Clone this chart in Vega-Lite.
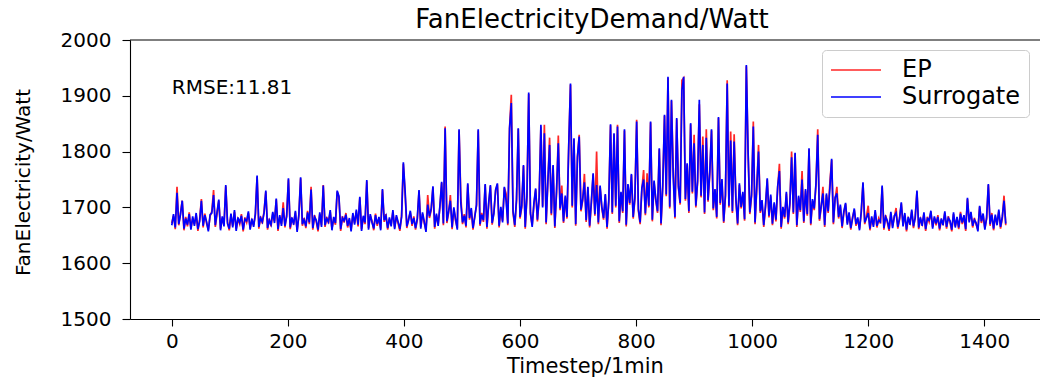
{
"$schema": "https://vega.github.io/schema/vega-lite/v6.json",
"width": 910, "height": 279,
"autosize": {"type": "none"},
"padding": {"left": 130, "top": 40, "right": 0, "bottom": 59},
"config": {"view": {"stroke": null}, "font": "DejaVu Sans"},
"title": {"text": "FanElectricityDemand/Watt", "fontSize": 26, "fontWeight": "normal", "color": "black", "font": "DejaVu Sans", "anchor": "middle", "offset": 8, "dx": 7, "dy": 11},
"layer": [
{
"data": {"values": [
{"t":0,"e":1672,"s":1668},{"t":3,"e":1685,"s":1688},{"t":6,"e":1661,"s":1664},{"t":9,"e":1737,"s":1726},{"t":12,"e":1668,"s":1670},{"t":15,"e":1690,"s":1687},{"t":18,"e":1712,"s":1712},{"t":21,"e":1659,"s":1662},{"t":24,"e":1683,"s":1680},{"t":27,"e":1666,"s":1669},
{"t":30,"e":1691,"s":1688},{"t":33,"e":1663,"s":1660},{"t":36,"e":1680,"s":1684},{"t":39,"e":1670,"s":1667},{"t":42,"e":1687,"s":1690},{"t":45,"e":1658,"s":1661},{"t":48,"e":1678,"s":1675},{"t":51,"e":1715,"s":1712},{"t":54,"e":1664,"s":1667},{"t":57,"e":1689,"s":1686},
{"t":60,"e":1671,"s":1674},{"t":63,"e":1660,"s":1657},{"t":66,"e":1684,"s":1687},{"t":69,"e":1693,"s":1690},{"t":72,"e":1731,"s":1722},{"t":75,"e":1665,"s":1668},{"t":78,"e":1688,"s":1692},{"t":81,"e":1712,"s":1714},{"t":84,"e":1662,"s":1659},{"t":87,"e":1681,"s":1684},
{"t":90,"e":1669,"s":1666},{"t":93,"e":1738,"s":1740},{"t":96,"e":1674,"s":1671},{"t":99,"e":1659,"s":1662},{"t":102,"e":1686,"s":1689},{"t":105,"e":1667,"s":1664},{"t":108,"e":1692,"s":1695},{"t":111,"e":1661,"s":1658},{"t":114,"e":1679,"s":1682},{"t":117,"e":1670,"s":1673},
{"t":120,"e":1688,"s":1685},{"t":123,"e":1657,"s":1660},{"t":126,"e":1682,"s":1679},{"t":129,"e":1673,"s":1676},{"t":132,"e":1690,"s":1693},{"t":135,"e":1663,"s":1660},{"t":138,"e":1677,"s":1680},{"t":141,"e":1668,"s":1665},{"t":144,"e":1686,"s":1689},{"t":147,"e":1755,"s":1757},
{"t":150,"e":1662,"s":1665},{"t":153,"e":1684,"s":1681},{"t":156,"e":1671,"s":1674},{"t":159,"e":1693,"s":1690},{"t":162,"e":1728,"s":1730},{"t":165,"e":1660,"s":1663},{"t":168,"e":1680,"s":1677},{"t":171,"e":1666,"s":1669},{"t":174,"e":1689,"s":1692},{"t":177,"e":1675,"s":1672},
{"t":180,"e":1714,"s":1716},{"t":183,"e":1658,"s":1661},{"t":186,"e":1683,"s":1686},{"t":189,"e":1670,"s":1667},{"t":192,"e":1709,"s":1699},{"t":195,"e":1664,"s":1667},{"t":198,"e":1687,"s":1684},{"t":201,"e":1750,"s":1752},{"t":204,"e":1661,"s":1664},{"t":207,"e":1679,"s":1682},
{"t":210,"e":1672,"s":1669},{"t":213,"e":1691,"s":1694},{"t":216,"e":1659,"s":1656},{"t":219,"e":1685,"s":1688},{"t":222,"e":1752,"s":1754},{"t":225,"e":1667,"s":1670},{"t":228,"e":1681,"s":1678},{"t":231,"e":1663,"s":1666},{"t":234,"e":1694,"s":1691},{"t":237,"e":1670,"s":1673},
{"t":240,"e":1737,"s":1732},{"t":243,"e":1660,"s":1663},{"t":246,"e":1686,"s":1683},{"t":249,"e":1674,"s":1677},{"t":252,"e":1657,"s":1660},{"t":255,"e":1688,"s":1691},{"t":258,"e":1668,"s":1665},{"t":261,"e":1740,"s":1739},{"t":264,"e":1665,"s":1668},{"t":267,"e":1683,"s":1680},
{"t":270,"e":1671,"s":1674},{"t":273,"e":1692,"s":1695},{"t":276,"e":1662,"s":1659},{"t":279,"e":1680,"s":1683},{"t":282,"e":1669,"s":1672},{"t":285,"e":1728,"s":1730},{"t":288,"e":1718,"s":1720},{"t":291,"e":1658,"s":1661},{"t":294,"e":1684,"s":1681},{"t":297,"e":1673,"s":1676},
{"t":300,"e":1690,"s":1687},{"t":303,"e":1664,"s":1667},{"t":306,"e":1678,"s":1681},{"t":309,"e":1660,"s":1657},{"t":312,"e":1687,"s":1690},{"t":315,"e":1672,"s":1669},{"t":318,"e":1693,"s":1696},{"t":321,"e":1666,"s":1669},{"t":324,"e":1717,"s":1719},{"t":327,"e":1661,"s":1658},
{"t":330,"e":1682,"s":1685},{"t":333,"e":1670,"s":1673},{"t":336,"e":1747,"s":1749},{"t":339,"e":1663,"s":1660},{"t":342,"e":1685,"s":1688},{"t":345,"e":1676,"s":1673},{"t":348,"e":1659,"s":1662},{"t":351,"e":1689,"s":1686},{"t":354,"e":1667,"s":1670},{"t":357,"e":1680,"s":1683},
{"t":360,"e":1662,"s":1659},{"t":363,"e":1731,"s":1733},{"t":366,"e":1674,"s":1677},{"t":369,"e":1688,"s":1685},{"t":372,"e":1660,"s":1663},{"t":375,"e":1679,"s":1682},{"t":378,"e":1669,"s":1666},{"t":381,"e":1692,"s":1695},{"t":384,"e":1664,"s":1661},{"t":387,"e":1683,"s":1686},
{"t":390,"e":1671,"s":1674},{"t":393,"e":1658,"s":1661},{"t":396,"e":1686,"s":1683},{"t":399,"e":1778,"s":1781},{"t":402,"e":1725,"s":1730},{"t":405,"e":1663,"s":1666},{"t":408,"e":1680,"s":1677},{"t":411,"e":1691,"s":1694},{"t":414,"e":1667,"s":1670},{"t":417,"e":1684,"s":1681},
{"t":420,"e":1660,"s":1663},{"t":423,"e":1677,"s":1680},{"t":426,"e":1729,"s":1731},{"t":429,"e":1665,"s":1662},{"t":432,"e":1688,"s":1691},{"t":435,"e":1672,"s":1675},{"t":438,"e":1659,"s":1656},{"t":441,"e":1722,"s":1705},{"t":444,"e":1681,"s":1684},{"t":447,"e":1695,"s":1698},
{"t":450,"e":1736,"s":1738},{"t":453,"e":1662,"s":1665},{"t":456,"e":1686,"s":1689},{"t":459,"e":1670,"s":1667},{"t":462,"e":1700,"s":1703},{"t":465,"e":1744,"s":1746},{"t":468,"e":1668,"s":1671},{"t":471,"e":1845,"s":1842},{"t":474,"e":1672,"s":1675},{"t":477,"e":1690,"s":1693},
{"t":480,"e":1722,"s":1712},{"t":483,"e":1661,"s":1664},{"t":486,"e":1697,"s":1700},{"t":489,"e":1676,"s":1679},{"t":492,"e":1663,"s":1660},{"t":495,"e":1838,"s":1840},{"t":498,"e":1720,"s":1708},{"t":501,"e":1670,"s":1673},{"t":504,"e":1688,"s":1685},{"t":507,"e":1664,"s":1667},
{"t":510,"e":1741,"s":1743},{"t":513,"e":1678,"s":1681},{"t":516,"e":1696,"s":1699},{"t":519,"e":1660,"s":1663},{"t":522,"e":1685,"s":1682},{"t":525,"e":1702,"s":1705},{"t":528,"e":1838,"s":1840},{"t":531,"e":1667,"s":1670},{"t":534,"e":1690,"s":1687},{"t":537,"e":1674,"s":1677},
{"t":540,"e":1740,"s":1742},{"t":543,"e":1662,"s":1665},{"t":546,"e":1705,"s":1708},{"t":549,"e":1738,"s":1740},{"t":552,"e":1669,"s":1672},{"t":555,"e":1692,"s":1689},{"t":558,"e":1730,"s":1732},{"t":561,"e":1741,"s":1743},{"t":564,"e":1664,"s":1667},{"t":567,"e":1698,"s":1701},
{"t":570,"e":1676,"s":1673},{"t":573,"e":1735,"s":1737},{"t":576,"e":1725,"s":1712},{"t":579,"e":1668,"s":1671},{"t":582,"e":1842,"s":1842},{"t":585,"e":1902,"s":1887},{"t":588,"e":1690,"s":1693},{"t":591,"e":1665,"s":1668},{"t":594,"e":1712,"s":1715},{"t":597,"e":1841,"s":1842},
{"t":600,"e":1680,"s":1683},{"t":603,"e":1700,"s":1703},{"t":606,"e":1774,"s":1776},{"t":609,"e":1662,"s":1665},{"t":612,"e":1720,"s":1722},{"t":615,"e":1903,"s":1906},{"t":618,"e":1688,"s":1691},{"t":621,"e":1668,"s":1665},{"t":624,"e":1705,"s":1708},{"t":627,"e":1732,"s":1734},
{"t":630,"e":1675,"s":1678},{"t":633,"e":1715,"s":1718},{"t":636,"e":1845,"s":1848},{"t":639,"e":1702,"s":1700},{"t":642,"e":1848,"s":1833},{"t":645,"e":1670,"s":1673},{"t":648,"e":1745,"s":1747},{"t":651,"e":1825,"s":1812},{"t":654,"e":1686,"s":1689},{"t":657,"e":1774,"s":1776},
{"t":660,"e":1663,"s":1666},{"t":663,"e":1728,"s":1730},{"t":666,"e":1829,"s":1815},{"t":669,"e":1695,"s":1698},{"t":672,"e":1739,"s":1725},{"t":675,"e":1672,"s":1675},{"t":678,"e":1718,"s":1721},{"t":681,"e":1680,"s":1683},{"t":684,"e":1810,"s":1812},{"t":687,"e":1920,"s":1922},
{"t":690,"e":1700,"s":1703},{"t":693,"e":1822,"s":1824},{"t":696,"e":1667,"s":1670},{"t":699,"e":1789,"s":1791},{"t":702,"e":1830,"s":1827},{"t":705,"e":1693,"s":1696},{"t":708,"e":1712,"s":1715},{"t":711,"e":1760,"s":1745},{"t":714,"e":1674,"s":1677},{"t":717,"e":1735,"s":1737},
{"t":720,"e":1664,"s":1667},{"t":723,"e":1708,"s":1711},{"t":726,"e":1759,"s":1761},{"t":729,"e":1685,"s":1688},{"t":732,"e":1800,"s":1740},{"t":735,"e":1670,"s":1673},{"t":738,"e":1737,"s":1739},{"t":741,"e":1698,"s":1701},{"t":744,"e":1678,"s":1681},{"t":747,"e":1722,"s":1724},
{"t":750,"e":1662,"s":1665},{"t":753,"e":1710,"s":1713},{"t":756,"e":1847,"s":1849},{"t":759,"e":1688,"s":1691},{"t":762,"e":1831,"s":1833},{"t":765,"e":1700,"s":1703},{"t":768,"e":1848,"s":1845},{"t":771,"e":1672,"s":1675},{"t":774,"e":1725,"s":1728},{"t":777,"e":1690,"s":1693},
{"t":780,"e":1838,"s":1840},{"t":783,"e":1666,"s":1669},{"t":786,"e":1740,"s":1742},{"t":789,"e":1705,"s":1708},{"t":792,"e":1758,"s":1760},{"t":795,"e":1680,"s":1683},{"t":798,"e":1715,"s":1718},{"t":801,"e":1857,"s":1854},{"t":804,"e":1694,"s":1697},{"t":807,"e":1670,"s":1673},
{"t":810,"e":1732,"s":1735},{"t":813,"e":1767,"s":1750},{"t":816,"e":1686,"s":1689},{"t":819,"e":1761,"s":1745},{"t":822,"e":1700,"s":1703},{"t":825,"e":1852,"s":1854},{"t":828,"e":1675,"s":1678},{"t":831,"e":1745,"s":1748},{"t":834,"e":1712,"s":1715},{"t":837,"e":1690,"s":1693},
{"t":840,"e":1804,"s":1806},{"t":843,"e":1668,"s":1671},{"t":846,"e":1738,"s":1741},{"t":849,"e":1864,"s":1866},{"t":852,"e":1720,"s":1723},{"t":855,"e":1932,"s":1934},{"t":858,"e":1698,"s":1701},{"t":861,"e":1891,"s":1893},{"t":864,"e":1770,"s":1755},{"t":867,"e":1680,"s":1683},
{"t":870,"e":1858,"s":1860},{"t":873,"e":1735,"s":1738},{"t":876,"e":1705,"s":1708},{"t":879,"e":1928,"s":1910},{"t":882,"e":1932,"s":1934},{"t":885,"e":1712,"s":1715},{"t":888,"e":1777,"s":1779},{"t":891,"e":1690,"s":1693},{"t":894,"e":1849,"s":1851},{"t":897,"e":1725,"s":1728},
{"t":900,"e":1830,"s":1815},{"t":903,"e":1700,"s":1703},{"t":906,"e":1745,"s":1748},{"t":909,"e":1885,"s":1893},{"t":912,"e":1718,"s":1721},{"t":915,"e":1827,"s":1812},{"t":918,"e":1688,"s":1691},{"t":921,"e":1840,"s":1825},{"t":924,"e":1710,"s":1713},{"t":927,"e":1760,"s":1763},
{"t":930,"e":1838,"s":1840},{"t":933,"e":1695,"s":1698},{"t":936,"e":1730,"s":1733},{"t":939,"e":1680,"s":1683},{"t":942,"e":1860,"s":1862},{"t":945,"e":1705,"s":1708},{"t":948,"e":1748,"s":1751},{"t":951,"e":1672,"s":1675},{"t":954,"e":1720,"s":1723},{"t":957,"e":1928,"s":1922},
{"t":960,"e":1700,"s":1703},{"t":963,"e":1836,"s":1820},{"t":966,"e":1690,"s":1693},{"t":969,"e":1831,"s":1818},{"t":972,"e":1712,"s":1715},{"t":975,"e":1668,"s":1671},{"t":978,"e":1740,"s":1743},{"t":981,"e":1698,"s":1701},{"t":984,"e":1725,"s":1728},{"t":987,"e":1676,"s":1679},
{"t":990,"e":1953,"s":1955},{"t":993,"e":1798,"s":1800},{"t":996,"e":1688,"s":1691},{"t":999,"e":1720,"s":1723},{"t":1002,"e":1854,"s":1845},{"t":1005,"e":1670,"s":1673},{"t":1008,"e":1735,"s":1738},{"t":1011,"e":1812,"s":1800},{"t":1014,"e":1690,"s":1693},{"t":1017,"e":1710,"s":1713},
{"t":1020,"e":1665,"s":1668},{"t":1023,"e":1700,"s":1703},{"t":1026,"e":1750,"s":1752},{"t":1029,"e":1682,"s":1685},{"t":1032,"e":1720,"s":1723},{"t":1035,"e":1668,"s":1671},{"t":1038,"e":1706,"s":1709},{"t":1041,"e":1675,"s":1678},{"t":1044,"e":1735,"s":1738},{"t":1047,"e":1778,"s":1765},
{"t":1050,"e":1662,"s":1665},{"t":1053,"e":1698,"s":1701},{"t":1056,"e":1680,"s":1683},{"t":1059,"e":1725,"s":1728},{"t":1062,"e":1670,"s":1673},{"t":1065,"e":1705,"s":1708},{"t":1068,"e":1800,"s":1790},{"t":1071,"e":1688,"s":1691},{"t":1074,"e":1796,"s":1798},{"t":1077,"e":1665,"s":1668},
{"t":1080,"e":1718,"s":1721},{"t":1083,"e":1692,"s":1695},{"t":1086,"e":1765,"s":1750},{"t":1089,"e":1672,"s":1675},{"t":1092,"e":1730,"s":1733},{"t":1095,"e":1685,"s":1688},{"t":1098,"e":1804,"s":1806},{"t":1101,"e":1668,"s":1671},{"t":1104,"e":1712,"s":1715},{"t":1107,"e":1695,"s":1698},
{"t":1110,"e":1740,"s":1743},{"t":1113,"e":1840,"s":1830},{"t":1116,"e":1676,"s":1679},{"t":1119,"e":1700,"s":1703},{"t":1122,"e":1737,"s":1725},{"t":1125,"e":1665,"s":1668},{"t":1128,"e":1722,"s":1725},{"t":1131,"e":1690,"s":1693},{"t":1134,"e":1746,"s":1735},{"t":1137,"e":1785,"s":1787},
{"t":1140,"e":1670,"s":1673},{"t":1143,"e":1715,"s":1718},{"t":1146,"e":1737,"s":1725},{"t":1149,"e":1680,"s":1683},{"t":1152,"e":1702,"s":1705},{"t":1155,"e":1663,"s":1666},{"t":1158,"e":1690,"s":1693},{"t":1161,"e":1706,"s":1708},{"t":1164,"e":1672,"s":1669},{"t":1167,"e":1688,"s":1691},
{"t":1170,"e":1660,"s":1663},{"t":1173,"e":1683,"s":1680},{"t":1176,"e":1695,"s":1698},{"t":1179,"e":1667,"s":1670},{"t":1182,"e":1679,"s":1682},{"t":1185,"e":1662,"s":1659},{"t":1188,"e":1690,"s":1693},{"t":1191,"e":1743,"s":1745},{"t":1194,"e":1670,"s":1673},{"t":1197,"e":1684,"s":1681},
{"t":1200,"e":1703,"s":1690},{"t":1203,"e":1659,"s":1662},{"t":1206,"e":1681,"s":1684},{"t":1209,"e":1668,"s":1665},{"t":1212,"e":1692,"s":1695},{"t":1215,"e":1664,"s":1667},{"t":1218,"e":1680,"s":1677},{"t":1221,"e":1671,"s":1674},{"t":1224,"e":1737,"s":1739},{"t":1227,"e":1660,"s":1663},
{"t":1230,"e":1686,"s":1683},{"t":1233,"e":1673,"s":1676},{"t":1236,"e":1658,"s":1661},{"t":1239,"e":1689,"s":1692},{"t":1242,"e":1666,"s":1663},{"t":1245,"e":1682,"s":1685},{"t":1248,"e":1699,"s":1690},{"t":1251,"e":1662,"s":1665},{"t":1254,"e":1678,"s":1681},{"t":1257,"e":1707,"s":1709},
{"t":1260,"e":1669,"s":1666},{"t":1263,"e":1687,"s":1690},{"t":1266,"e":1657,"s":1660},{"t":1269,"e":1680,"s":1683},{"t":1272,"e":1672,"s":1669},{"t":1275,"e":1693,"s":1696},{"t":1278,"e":1663,"s":1666},{"t":1281,"e":1684,"s":1681},{"t":1284,"e":1728,"s":1730},{"t":1287,"e":1661,"s":1664},
{"t":1290,"e":1679,"s":1682},{"t":1293,"e":1670,"s":1667},{"t":1296,"e":1688,"s":1691},{"t":1299,"e":1658,"s":1661},{"t":1302,"e":1683,"s":1680},{"t":1305,"e":1674,"s":1677},{"t":1308,"e":1691,"s":1694},{"t":1311,"e":1665,"s":1662},{"t":1314,"e":1681,"s":1684},{"t":1317,"e":1668,"s":1671},
{"t":1320,"e":1686,"s":1683},{"t":1323,"e":1659,"s":1662},{"t":1326,"e":1677,"s":1680},{"t":1329,"e":1671,"s":1668},{"t":1332,"e":1690,"s":1693},{"t":1335,"e":1662,"s":1665},{"t":1338,"e":1684,"s":1681},{"t":1341,"e":1673,"s":1676},{"t":1344,"e":1657,"s":1660},{"t":1347,"e":1688,"s":1691},
{"t":1350,"e":1667,"s":1664},{"t":1353,"e":1680,"s":1683},{"t":1356,"e":1661,"s":1664},{"t":1359,"e":1692,"s":1689},{"t":1362,"e":1670,"s":1673},{"t":1365,"e":1683,"s":1686},{"t":1368,"e":1658,"s":1661},{"t":1371,"e":1715,"s":1717},{"t":1374,"e":1676,"s":1673},{"t":1377,"e":1689,"s":1692},
{"t":1380,"e":1664,"s":1667},{"t":1383,"e":1681,"s":1678},{"t":1386,"e":1669,"s":1672},{"t":1389,"e":1660,"s":1657},{"t":1392,"e":1701,"s":1703},{"t":1395,"e":1672,"s":1675},{"t":1398,"e":1686,"s":1689},{"t":1401,"e":1663,"s":1660},{"t":1404,"e":1679,"s":1682},{"t":1407,"e":1740,"s":1742},
{"t":1410,"e":1667,"s":1670},{"t":1413,"e":1690,"s":1687},{"t":1416,"e":1659,"s":1662},{"t":1419,"e":1684,"s":1687},{"t":1422,"e":1671,"s":1668},{"t":1425,"e":1693,"s":1696},{"t":1428,"e":1662,"s":1665},{"t":1431,"e":1680,"s":1683},{"t":1434,"e":1721,"s":1712},{"t":1437,"e":1668,"s":1671}
]},
"transform": [{"fold": ["e", "s"], "as": ["series", "value"]}],
"mark": {"type": "line", "strokeWidth": 1.7},
"encoding": {
"x": {"field": "t", "type": "quantitative", "scale": {"domain": [-72, 1496], "nice": false, "zero": false},
 "axis": {"values": [0,200,400,600,800,1000,1200,1400], "format": "d", "grid": false, "title": "Timestep/1min", "titleFont": "DejaVu Sans", "titleFontSize": 21, "titleFontWeight": "normal", "titleColor": "black", "titlePadding": 4, "labelFont": "DejaVu Sans", "labelFontSize": 20, "labelColor": "black", "labelPadding": 5, "tickSize": 7, "tickColor": "black", "domainColor": "black", "domainWidth": 1.1, "tickWidth": 1.1, "labelFlush": false}},
"y": {"field": "value", "type": "quantitative", "scale": {"domain": [1500, 2000], "nice": false, "zero": false},
 "axis": {"values": [1500,1600,1700,1800,1900,2000], "format": "d", "grid": false, "title": "FanElectricity/Watt", "titleFont": "DejaVu Sans", "titleFontSize": 20, "titleFontWeight": "normal", "titleColor": "black", "titleX": -107, "titleY": 142, "titleAngle": -90, "titleAlign": "center", "titleBaseline": "middle", "labelFont": "DejaVu Sans", "labelFontSize": 20, "labelColor": "black", "labelPadding": 11, "tickSize": 8, "tickColor": "black", "domainColor": "black", "domainWidth": 1.1, "tickWidth": 1.1, "labelFlush": false}},
"color": {"field": "series", "type": "nominal", "scale": {"domain": ["e", "s"], "range": ["#ff0000", "#0000ff"]},
 "legend": {"orient": "none", "legendX": 692, "legendY": 10, "title": null, "symbolType": "M-5,0H5", "symbolSize": 100, "symbolStrokeWidth": 1.3, "symbolOffset": 14, "labelOffset": 34, "labelFont": "DejaVu Sans", "labelFontSize": 24, "labelColor": "black", "strokeColor": "#cccccc", "fillColor": "rgba(255,255,255,0.8)", "cornerRadius": 4, "padding": 8, "rowPadding": 3, "symbolOpacity": 0.5, "labelExpr": "datum.label == 'e' ? 'EP' : 'Surrogate'"}},
"opacity": {"field": "series", "type": "nominal", "scale": {"domain": ["e", "s"], "range": [0.85, 1]}, "legend": null}
}
},
{
"data": {"values": [{"y": 2000}]},
"mark": {"type": "rule", "color": "black", "strokeWidth": 1.1},
"encoding": {"y": {"field": "y", "type": "quantitative"}}
},
{
"data": {"values": [{"x": 0, "y": 1914, "label": "RMSE:11.81"}]},
"mark": {"type": "text", "align": "left", "baseline": "middle", "fontSize": 20, "font": "DejaVu Sans", "color": "black"},
"encoding": {"x": {"field": "x", "type": "quantitative"}, "y": {"field": "y", "type": "quantitative"}, "text": {"field": "label"}}
}
]
}
